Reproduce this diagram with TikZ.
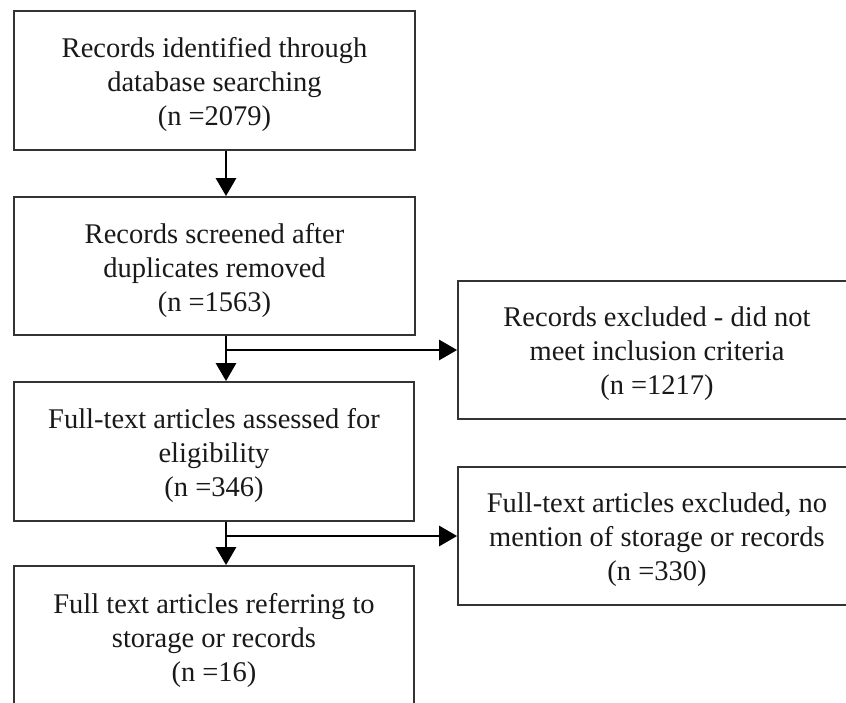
\documentclass[tikz,border=0pt]{standalone}
\usepackage{fontspec}
\setmainfont{Liberation Serif}
\usetikzlibrary{arrows.meta}
\begin{document}
\begin{tikzpicture}[x=1pt,y=1pt,
  box/.style={draw=black!80, line width=1.8pt, inner sep=0pt},
  txt/.style={align=center, inner sep=0pt,
    font=\fontsize{28.5}{34}\selectfont, text=black!90},
  arr/.style={line width=2.8pt, -{Triangle[length=18pt,width=20pt]}}]
\useasboundingbox (0,0) rectangle (846,-702);
\clip (0,0) rectangle (846,-702);
\node[box, minimum width=401, minimum height=139] (b1) at (214.5,-80.5) {};
\node[txt] (t1) at ([yshift=-4]b1.center)
  {Records identified through\\database searching\\(n =2079)};
\node[box, minimum width=401, minimum height=138] (b2) at (214.5,-266) {};
\node[txt] (t2) at ([yshift=-4]b2.center)
  {Records screened after\\duplicates removed\\(n =1563)};
\node[box, minimum width=398, minimum height=138] (b3) at (657,-350) {};
\node[txt] (t3) at ([yshift=-4]b3.center)
  {Records excluded - did not\\meet inclusion criteria\\(n =1217)};
\node[box, minimum width=400, minimum height=139] (b4) at (214,-451.5) {};
\node[txt] (t4) at ([yshift=-4]b4.center)
  {Full-text articles assessed for\\eligibility\\(n =346)};
\node[box, minimum width=398, minimum height=138] (b5) at (657,-536) {};
\node[txt] (t5) at ([yshift=-4]b5.center)
  {Full-text articles excluded, no\\mention of storage or records\\(n =330)};
\node[box, minimum width=400, minimum height=140] (b6) at (214,-636) {};
\node[txt] (t6) at ([yshift=-4]b6.center)
  {Full text articles referring to\\storage or records\\(n =16)};
\coordinate (vx) at (226,0);
\draw[arr] (b1.south -| vx) -- (b2.north -| vx);
\draw[arr] (b2.south -| vx) -- (b4.north -| vx);
\draw[arr] (b2.south -| vx) |- (b3.west);
\draw[arr] (b4.south -| vx) -- (b6.north -| vx);
\draw[arr] (b4.south -| vx) |- (b5.west);
\end{tikzpicture}
\end{document}
